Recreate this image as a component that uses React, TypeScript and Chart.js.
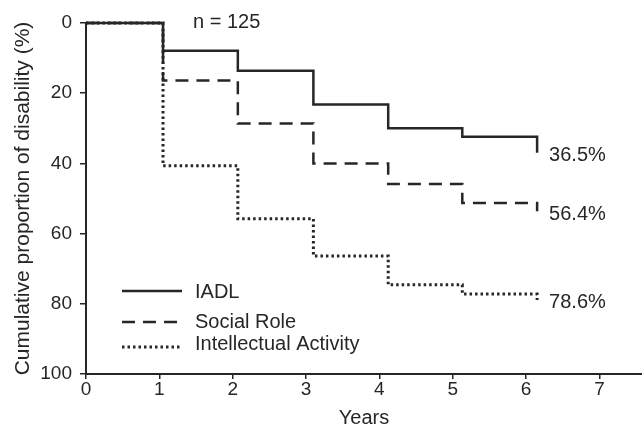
import { useEffect, useRef } from 'react';
import { Chart, registerables } from 'chart.js';

Chart.register(...registerables);

// ---- data ----
const years = [0, 1.05, 2.07, 3.1, 4.12, 5.13, 6.15];
const iadl = [0, 7.9, 13.6, 23.2, 30.0, 32.4, 37.0];
const socialRole = [0, 16.4, 28.6, 40.0, 45.9, 51.3, 53.6];
const intellectualActivity = [0, 40.7, 55.8, 66.4, 74.6, 77.2, 78.9];
const seriesNames = ['IADL', 'Social Role', 'Intellectual Activity'];
const endLabels = ['36.5%', '56.4%', '78.6%'];
const yTickValues = [0, 20, 40, 60, 80, 100];
const xTickValues = [0, 1, 2, 3, 4, 5, 6, 7];
const sampleNote = 'n = 125';
const xTitle = 'Years';
const yTitle = 'Cumulative proportion of disability (%)';

const FONT = '"Liberation Sans", Arial, Helvetica, sans-serif';
const INK = '#262626';
const DASHES: number[][] = [[], [13, 8], [2.5, 3]];
const WIDTHS = [2.5, 2.5, 3];

const overlay = {
  id: 'overlay',
  afterDatasetsDraw(chart: any) {
    const { ctx, chartArea, scales } = chart;
    const x = scales.x;
    const y = scales.y;
    ctx.save();
    ctx.fillStyle = INK;
    ctx.strokeStyle = INK;
    ctx.font = `20px ${FONT}`;
    ctx.textBaseline = 'middle';
    ctx.textAlign = 'left';
    // end labels
    chart.data.datasets.forEach((ds: any, i: number) => {
      const last = ds.data[ds.data.length - 1];
      ctx.fillText(endLabels[i], x.getPixelForValue(last.x) + 12, y.getPixelForValue(last.y) + 3);
    });
    // sample size
    ctx.fillText(sampleNote, chartArea.left + 107, chartArea.top - 1);
    // legend
    const lineRows = [268, 299, 324];
    const textRows = [269, 299.5, 321.5];
    chart.data.datasets.forEach((ds: any, i: number) => {
      const ly = chartArea.top + lineRows[i];
      ctx.beginPath();
      ctx.lineWidth = WIDTHS[i];
      ctx.setLineDash(DASHES[i]);
      ctx.moveTo(chartArea.left + 36, ly);
      ctx.lineTo(chartArea.left + 96, ly);
      ctx.stroke();
      ctx.setLineDash([]);
      ctx.fillText(seriesNames[i], chartArea.left + 109, chartArea.top + textRows[i]);
    });
    ctx.restore();
  },
};

export default function App() {
  const ref = useRef<HTMLCanvasElement | null>(null);
  useEffect(() => {
    if (!ref.current) return;
    const series = [iadl, socialRole, intellectualActivity];
    const chart = new Chart(ref.current, {
      type: 'line',
      data: {
        datasets: series.map((vals, i) => ({
          label: seriesNames[i],
          data: years.map((t, k) => ({ x: t, y: vals[k] })),
          borderColor: INK,
          borderWidth: WIDTHS[i],
          borderDash: DASHES[i],
          stepped: 'before' as const,
          pointRadius: 0,
          fill: false,
          clip: false as any,
        })),
      },
      options: {
        responsive: false,
        animation: false,
        layout: { padding: { top: 23, right: 0, bottom: 0, left: 0 } },
        plugins: { legend: { display: false }, tooltip: { enabled: false } },
        scales: {
          x: {
            type: 'linear',
            min: 0,
            max: 7.58,
            afterBuildTicks: (s: any) => {
              s.ticks = xTickValues.map((v) => ({ value: v }));
            },
            afterFit: (s: any) => {
              s.height = 54;
            },
            ticks: {
              color: INK,
              font: { family: FONT, size: 19, lineHeight: 1 },
              padding: 1,
              callback: (v: any) => String(v),
            },
            grid: { drawOnChartArea: false, drawTicks: true, tickLength: 5, color: INK, lineWidth: 1.5 },
            border: { display: true, color: INK, width: 2 },
            title: {
              display: true,
              text: xTitle,
              color: INK,
              font: { family: FONT, size: 20, lineHeight: 1 },
              padding: { top: 0, bottom: 0 },
            },
          },
          y: {
            type: 'linear',
            reverse: true,
            min: 0,
            max: 100,
            afterBuildTicks: (s: any) => {
              s.ticks = yTickValues.map((v) => ({ value: v }));
            },
            afterFit: (s: any) => {
              s.width = 86;
            },
            ticks: {
              color: INK,
              font: { family: FONT, size: 19 },
              padding: 8,
            },
            grid: { drawOnChartArea: false, drawTicks: true, tickLength: 6, color: INK, lineWidth: 1.5 },
            border: { display: true, color: INK, width: 2 },
            title: {
              display: true,
              text: yTitle,
              color: INK,
              font: { family: FONT, size: 21, lineHeight: 1 },
              padding: { top: 13, bottom: 0 },
            },
          },
        },
      },
      plugins: [overlay],
    });
    return () => chart.destroy();
  }, []);
  return (
    <div style={{ position: 'fixed', left: 0, top: 0, width: 642, height: 428, background: '#fff' }}>
      <canvas ref={ref} width={642} height={428} style={{ display: 'block' }} />
    </div>
  );
}
